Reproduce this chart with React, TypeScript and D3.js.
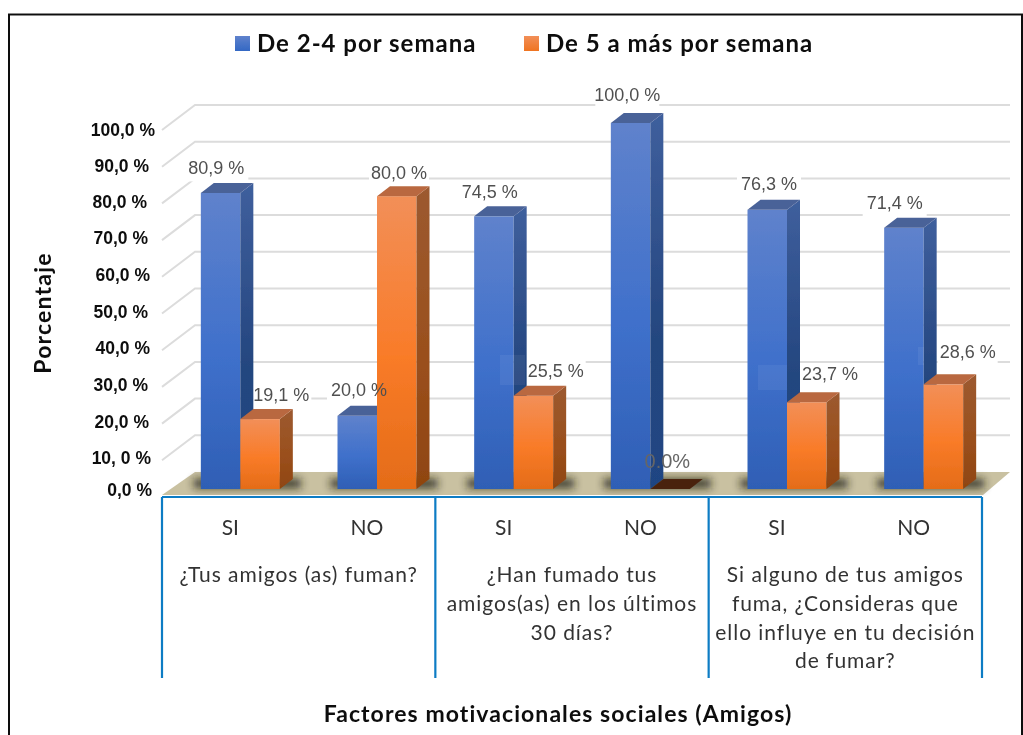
import React from "react";
import * as d3 from "d3";

const categories = ["SI", "NO", "SI", "NO", "SI", "NO"];
const series2a4 = [80.9, 20.0, 74.5, 100.0, 76.3, 71.4];
const series5mas = [19.1, 80.0, 25.5, 0.0, 23.7, 28.6];
const labels2a4 = ["80,9 %", "20,0 %", "74,5 %", "100,0 %", "76,3 %", "71,4 %"];
const labels5mas = ["19,1 %", "80,0 %", "25,5 %", "0.0%", "23,7 %", "28,6 %"];
const yTicks = [0, 10, 20, 30, 40, 50, 60, 70, 80, 90, 100];
const yTickLabels = ["0,0 %", "10, 0 %", "20,0 %", "30,0 %", "40,0 %", "50,0 %", "60,0 %", "70,0 %", "80,0 %", "90,0 %", "100,0 %"];
const legendNames = ["De 2-4 por semana", "De 5 a más por semana"];
const groupLabels = [
  ["¿Tus amigos (as) fuman?"],
  ["¿Han fumado tus", "amigos(as) en los últimos", "30 días?"],
  ["Si alguno de tus amigos", "fuma, ¿Consideras que", "ello influye en tu decisión", "de fumar?"],
];
const yTitle = "Porcentaje";
const xTitle = "Factores motivacionales sociales (Amigos)";

const W = 1023, H = 735;
const DX = 13, DY = 10;
const y = d3.scaleLinear().domain([0, 100]).range([489, 123]);
const yBack = d3.scaleLinear().domain([0, 100]).range([472, 105]);
const x = d3.scaleBand<number>().domain(d3.range(6)).range([162, 982]);
const groupX = d3.scaleBand<number>().domain(d3.range(3)).range([162, 982]);
const BW = 39.5;
const FF = "'Liberation Sans', Arial, sans-serif";
const FN = "Lato, 'Open Sans', sans-serif";
const tickRight = [152, 151, 149, 148, 150, 148, 150, 148, 147, 149, 155];
const tickCy = [490, 458, 422, 385, 348, 312, 275, 238, 202, 166, 130];
const lab2 = [[-24, -23.5], [-18, -24.5], [-24, -23.5], [-23, -26.5], [-18, -24], [-29, -23.5]];
const lab5 = [[41, -22.5], [22, -22], [42, -23.5], [17, -26], [43, -27], [44, -31]];
const patches = [[500, 355, 25, 30], [758, 365, 29, 25], [918, 347, 6, 18]];

const poly = (pts: number[][]) => pts.map((p) => p.join(",")).join(" ");
const barCx = (i: number) => (x(i) as number) + x.bandwidth() / 2 + 10;

function Bar({ x0, v, k }: { x0: number; v: number; k: string }) {
  const t = y(v), b = y(0), x1 = x0 + BW;
  if (v === 0) return <polygon points={poly([[x0, b], [x1, b], [x1 + DX, b - DY], [x0 + DX, b - DY]])} fill="#4a2410" />;
  return (
    <g>
      <rect x={x0} y={t} width={BW} height={b - t} fill={`url(#front-${k})`} />
      <polygon points={poly([[x1, t], [x1 + DX, t - DY], [x1 + DX, b - DY], [x1, b]])} fill={`url(#side-${k})`} />
      <polygon points={poly([[x0, t], [x1, t], [x1 + DX, t - DY], [x0 + DX, t - DY]])} fill={k === "b" ? "#4a6298" : "#b9683f"} />
    </g>
  );
}

export default function App() {
  return (
    <svg width={W} height={H} viewBox={`0 0 ${W} ${H}`} style={{ position: "absolute", left: 0, top: 0, background: "#fff" }}>
      <defs>
        <linearGradient id="front-b" x1="0" x2="0" y1="0" y2="1">
          <stop offset="0" stopColor="#5f82cc" /><stop offset="0.55" stopColor="#3f70cb" /><stop offset="1" stopColor="#2f5fb5" />
        </linearGradient>
        <linearGradient id="side-b" x1="0" x2="0" y1="0" y2="1">
          <stop offset="0" stopColor="#3f5f9d" /><stop offset="0.6" stopColor="#24467f" /><stop offset="1" stopColor="#1f4583" />
        </linearGradient>
        <linearGradient id="front-o" x1="0" x2="0" y1="0" y2="1">
          <stop offset="0" stopColor="#f28f58" /><stop offset="0.55" stopColor="#f97b28" /><stop offset="1" stopColor="#e46c18" />
        </linearGradient>
        <linearGradient id="side-o" x1="0" x2="0" y1="0" y2="1">
          <stop offset="0" stopColor="#9c5a30" /><stop offset="0.6" stopColor="#9a4f1c" /><stop offset="1" stopColor="#8f4510" />
        </linearGradient>
        <linearGradient id="leg-b" x1="0" x2="0" y1="0" y2="1">
          <stop offset="0" stopColor="#5f82cc" /><stop offset="1" stopColor="#3468c4" />
        </linearGradient>
        <linearGradient id="leg-o" x1="0" x2="0" y1="0" y2="1">
          <stop offset="0" stopColor="#f28f58" /><stop offset="1" stopColor="#ef7420" />
        </linearGradient>
        <filter id="soft" x="-5%" y="-5%" width="110%" height="110%"><feGaussianBlur stdDeviation="0.4" /></filter>
        <filter id="shadow" x="-30%" y="-100%" width="160%" height="300%"><feGaussianBlur stdDeviation="4" /></filter>
      </defs>
      <g filter="url(#soft)">
        <path d={`M9,735 V14.5 H1022 V735`} fill="none" stroke="#111" strokeWidth={2} />

        {yTicks.filter((t) => t > 0).map((t) => (
          <polyline key={t} points={poly([[162, yBack(t) + 25], [195, yBack(t)], [1010, yBack(t)]])} fill="none" stroke="#dcdcdc" strokeWidth={2} />
        ))}

        <polygon points={poly([[162, 495], [195, yBack(0)], [1010, yBack(0)], [983, 495]])} fill="#c9c1a1" />

        {categories.map((_, i) => (
          <rect key={i} x={barCx(i) - BW - 7} y={y(0) - 10} width={BW * 2 + 28} height={9} fill="#1c1c10" opacity={0.85} filter="url(#shadow)" />
        ))}

        {/* white boxes behind data labels break the gridlines */}
        {series5mas.map((v, i) => (
          <rect key={"w" + i} x={barCx(i) + lab5[i][0] - 30} y={y(v) + lab5[i][1] - 12} width={60} height={24} fill="#fff" opacity={i === 3 ? 0 : 1} />
        ))}
        {series2a4.map((v, i) => (
          <rect key={"v" + i} x={barCx(i) + lab2[i][0] - 32} y={y(v) + lab2[i][1] - 12} width={64} height={24} fill="#fff" />
        ))}

        {categories.map((_, i) => (
          <g key={i}>
            <Bar x0={barCx(i) - BW} v={series2a4[i]} k="b" />
            <Bar x0={barCx(i)} v={series5mas[i]} k="o" />
          </g>
        ))}

        {patches.map((p, i) => (
          <rect key={i} x={p[0]} y={p[1]} width={p[2]} height={p[3]} fill="#fff" opacity={0.06} />
        ))}

        {categories.map((_, i) => (
          <g key={i} fontFamily={FF} fontSize={18} fill="#505050" textAnchor="middle">
            <text x={barCx(i) + lab2[i][0]} y={y(series2a4[i]) + lab2[i][1]} dominantBaseline="middle">{labels2a4[i]}</text>
            <text x={barCx(i) + lab5[i][0]} y={y(series5mas[i]) + lab5[i][1]} fontSize={series5mas[i] === 0 ? 20 : 18} fill={series5mas[i] === 0 ? "#666" : "#505050"} dominantBaseline="middle">{labels5mas[i]}</text>
          </g>
        ))}

        {yTicks.map((t, i) => (
          <text key={t} x={tickRight[i]} y={tickCy[i]} dy="0.36em" textAnchor="end" fontFamily={FF} fontWeight={700} fontSize={17.5} fill="#111">
            {yTickLabels[i]}
          </text>
        ))}

        {/* table under the axis */}
        <g stroke="#0a7cc4" strokeWidth={2.2} fill="none">
          <line x1={162} x2={982} y1={497} y2={497} />
          {d3.range(4).map((i) => {
            const px = i < 3 ? (groupX(i) as number) : 982;
            return <line key={i} x1={px} x2={px} y1={497} y2={678} />;
          })}
        </g>
        {categories.map((c, i) => (
          <text key={i} x={(x(i) as number) + x.bandwidth() / 2} y={527} dy="0.36em" textAnchor="middle" fontFamily={FN} fontSize={21} fill="#333">{c}</text>
        ))}
        {groupLabels.map((lines, g) =>
          lines.map((l, j) => (
            <text key={g + "-" + j} x={(groupX(g) as number) + groupX.bandwidth() / 2} y={574.5 + j * 28.8} dy="0.36em" textAnchor="middle" fontFamily={FN} fontSize={21} letterSpacing={0.95} fill="#333">{l}</text>
          ))
        )}

        <text transform="translate(43,313) rotate(-90)" dy="0.36em" textAnchor="middle" fontFamily={FN} fontWeight={700} fontSize={23} letterSpacing={1.2} fill="#111">{yTitle}</text>
        <text x={558} y={714} dy="0.36em" textAnchor="middle" fontFamily={FN} fontWeight={700} fontSize={23} letterSpacing={1.07} fill="#111">{xTitle}</text>

        <rect x={235} y={36} width={15} height={15} fill="url(#leg-b)" />
        <text x={257} y={43} dy="0.36em" fontFamily={FN} fontWeight={700} fontSize={24} letterSpacing={1} fill="#111">{legendNames[0]}</text>
        <rect x={524} y={36} width={15} height={15} fill="url(#leg-o)" />
        <text x={546} y={43} dy="0.36em" fontFamily={FN} fontWeight={700} fontSize={24} letterSpacing={1} fill="#111">{legendNames[1]}</text>
      </g>
    </svg>
  );
}
